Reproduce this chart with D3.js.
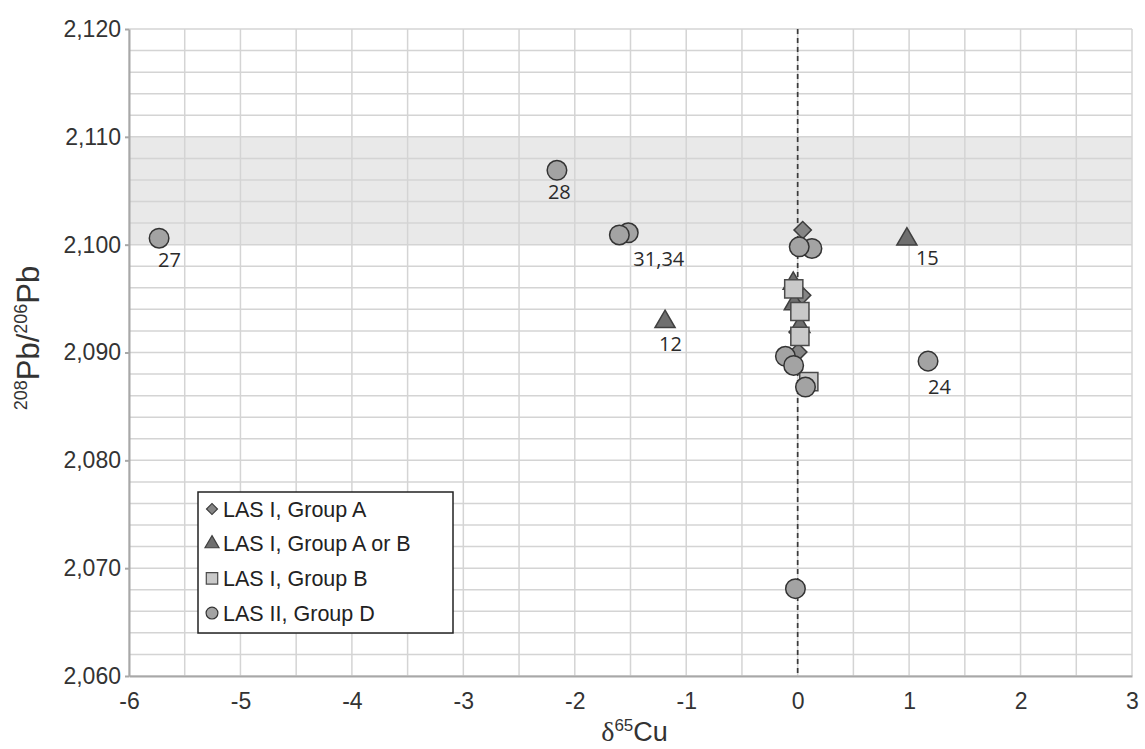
<!DOCTYPE html>
<html lang="en">
<head>
<meta charset="utf-8">
<title>208Pb/206Pb vs δ65Cu</title>
<style>
  body { margin: 0; background: #fff; }
  .grid line { stroke: #d4d4d4; stroke-width: 1.5; }
  .axis text { font-family: "Liberation Sans", Arial, sans-serif; font-size: 23px; fill: #333; }
  .axis path, .axis line { stroke: #a8a8a8; stroke-width: 2; }
  .pt-label { font-family: "Open Sans", sans-serif; font-size: 20px; fill: #2a2a2a; }
  .legend text { font-family: "Liberation Sans", Arial, sans-serif; font-size: 21.5px; fill: #222; }
  .title-y, .title-x { font-family: "Liberation Sans", Arial, sans-serif; fill: #333; }
</style>
</head>
<body>
<svg width="1145" height="749"></svg>
<script src="https://cdnjs.cloudflare.com/ajax/libs/d3/7.8.5/d3.min.js"></script>
<script>
// data
var groupA = [
  {x: 0.045, y: 2101.35}, {x: 0.04, y: 2095.3}, {x: 0.0, y: 2091.9}, {x: 0.005, y: 2090.05}
];
var groupAorB = [
  {x: -1.19, y: 2092.85}, {x: 0.98, y: 2100.5}, {x: -0.04, y: 2096.4}, {x: -0.03, y: 2094.5}, {x: 0.02, y: 2092.4}
];
var groupB = [
  {x: -0.035, y: 2095.9}, {x: 0.02, y: 2093.8}, {x: 0.02, y: 2091.5}, {x: 0.10, y: 2087.3}
];
var groupD = [
  {x: -5.73, y: 2100.6}, {x: -2.16, y: 2106.9}, {x: -1.52, y: 2101.1}, {x: -1.60, y: 2100.9},
  {x: 0.128, y: 2099.65}, {x: 0.014, y: 2099.8}, {x: -0.11, y: 2089.65}, {x: -0.036, y: 2088.8},
  {x: 0.07, y: 2086.8}, {x: 1.17, y: 2089.2}, {x: -0.02, y: 2068.1}
];
var pointLabels = [
  {text: "27", x: -5.73, y: 2100.6}, {text: "28", x: -2.16, y: 2106.9}, {text: "31,34", x: -1.60, y: 2100.9},
  {text: "12", x: -1.19, y: 2092.85}, {text: "15", x: 0.98, y: 2100.5}, {text: "24", x: 1.17, y: 2089.2}
];
var legendLabels = ["LAS I, Group A", "LAS I, Group A or B", "LAS I, Group B", "LAS II, Group D"];
var xTicks = [-6, -5, -4, -3, -2, -1, 0, 1, 2, 3];
var yTicks = [2060, 2070, 2080, 2090, 2100, 2110, 2120];
var band = [2100, 2110];

// label offsets from the marker centre (px)
var labelOffset = {"27": [-1, 29], "28": [-9, 29], "31,34": [14, 31], "12": [-6, 29], "15": [9, 26], "24": [0, 33]};

var svg = d3.select('svg'),
    margin = {top: 29, right: 13, bottom: 73, left: 129},
    w = +svg.attr('width') - margin.left - margin.right,
    h = +svg.attr('height') - margin.top - margin.bottom;

var x = d3.scaleLinear().domain([-6, 3]).range([0, w]),
    y = d3.scaleLinear().domain([2060, 2120]).range([h, 0]);

var g = svg.append('g').attr('transform', 'translate(' + margin.left + ',' + margin.top + ')');

// shaded band
g.append('rect')
  .attr('x', 0).attr('width', w)
  .attr('y', y(band[1])).attr('height', y(band[0]) - y(band[1]))
  .attr('fill', '#e9e9e9');

// grid: x every 0.5, y every 2
var grid = g.append('g').attr('class', 'grid');
grid.selectAll('.gx').data(d3.range(-6, 3.01, 0.5)).enter().append('line')
  .attr('x1', d => x(d)).attr('x2', d => x(d)).attr('y1', 0).attr('y2', h);
grid.selectAll('.gy').data(d3.range(2060, 2120.01, 2)).enter().append('line')
  .attr('y1', d => y(d)).attr('y2', d => y(d)).attr('x1', 0).attr('x2', w);

// axes
g.append('g').attr('class', 'axis axis-y')
  .call(d3.axisLeft(y).tickValues(yTicks).tickFormat(d3.format(',')).tickSize(4).tickSizeOuter(0).tickPadding(4));
g.append('g').attr('class', 'axis axis-x')
  .attr('transform', 'translate(0,' + h + ')')
  .call(d3.axisBottom(x).tickValues(xTicks).tickFormat(d => String(d)).tickSize(0).tickSizeOuter(0).tickPadding(17));

// dashed zero line
g.append('line')
  .attr('x1', x(0)).attr('x2', x(0)).attr('y1', 0).attr('y2', h)
  .attr('stroke', '#3a3a3a').attr('stroke-width', 1.7).attr('stroke-dasharray', '5,4');

// marker shapes
var shapes = {
  diamond: {path: d3.symbol().type(d3.symbolSquare).size(150)(), rot: 45, fill: '#858585', stroke: '#3c3c3c'},
  triangle: {path: d3.symbol().type(d3.symbolTriangle).size(175)(), rot: 0, fill: '#6f6f6f', stroke: '#404040'},
  square: {path: d3.symbol().type(d3.symbolSquare).size(330)(), rot: 0, fill: '#c9c9c9', stroke: '#4a4a4a'},
  circle: {path: d3.symbol().type(d3.symbolCircle).size(300)(), rot: 0, fill: '#a3a3a3', stroke: '#333'}
};

function drawSeries(data, key) {
  var s = shapes[key];
  g.append('g').selectAll('path').data(data).enter().append('path')
    .attr('d', s.path)
    .attr('transform', d => 'translate(' + x(d.x) + ',' + y(d.y) + ') rotate(' + s.rot + ')')
    .attr('fill', s.fill).attr('stroke', s.stroke).attr('stroke-width', 1.5);
}
drawSeries(groupA, 'diamond');
drawSeries(groupAorB, 'triangle');
drawSeries(groupB, 'square');
drawSeries(groupD, 'circle');

// point labels
g.selectAll('.pt-label').data(pointLabels).enter().append('text')
  .attr('class', 'pt-label')
  .attr('x', d => x(d.x) + labelOffset[d.text][0])
  .attr('y', d => y(d.y) + labelOffset[d.text][1])
  .text(d => d.text);

// legend
var legend = svg.append('g').attr('class', 'legend').attr('transform', 'translate(198,492)');
legend.append('rect').attr('width', 255).attr('height', 141)
  .attr('fill', '#fff').attr('stroke', '#222').attr('stroke-width', 1.5);
var legendKeys = ['diamond', 'triangle', 'square', 'circle'];
var legendSize = {diamond: 60, triangle: 85, square: 130, circle: 110};
legendLabels.forEach(function(lab, i) {
  var k = legendKeys[i], s = shapes[k], cy = 17 + i * 34.7;
  legend.append('path')
    .attr('d', d3.symbol().type(k === 'circle' ? d3.symbolCircle : k === 'triangle' ? d3.symbolTriangle : d3.symbolSquare).size(legendSize[k])())
    .attr('transform', 'translate(14,' + cy + ') rotate(' + s.rot + ')')
    .attr('fill', s.fill).attr('stroke', s.stroke).attr('stroke-width', 1.2);
  legend.append('text').attr('x', 25).attr('y', cy).attr('dy', '0.36em').text(lab);
});

// axis titles
var ty = svg.append('text').attr('class', 'title-y')
  .attr('transform', 'translate(39,338) rotate(-90)')
  .attr('text-anchor', 'middle');
ty.append('tspan').attr('font-size', 18).attr('dy', -12).text('208');
ty.append('tspan').attr('font-size', 31).attr('dy', 12).text('Pb/');
ty.append('tspan').attr('font-size', 18).attr('dy', -12).text('206');
ty.append('tspan').attr('font-size', 31).attr('dy', 12).text('Pb');

var tx = svg.append('text').attr('class', 'title-x')
  .attr('x', margin.left + w / 2 + 4).attr('y', 741)
  .attr('text-anchor', 'middle');
tx.append('tspan').attr('font-family', '"Liberation Serif", serif').attr('font-size', 28).text('δ');
tx.append('tspan').attr('font-size', 17).attr('dy', -10).text('65');
tx.append('tspan').attr('font-size', 27).attr('dy', 10).text('Cu');
</script>
</body>
</html>
